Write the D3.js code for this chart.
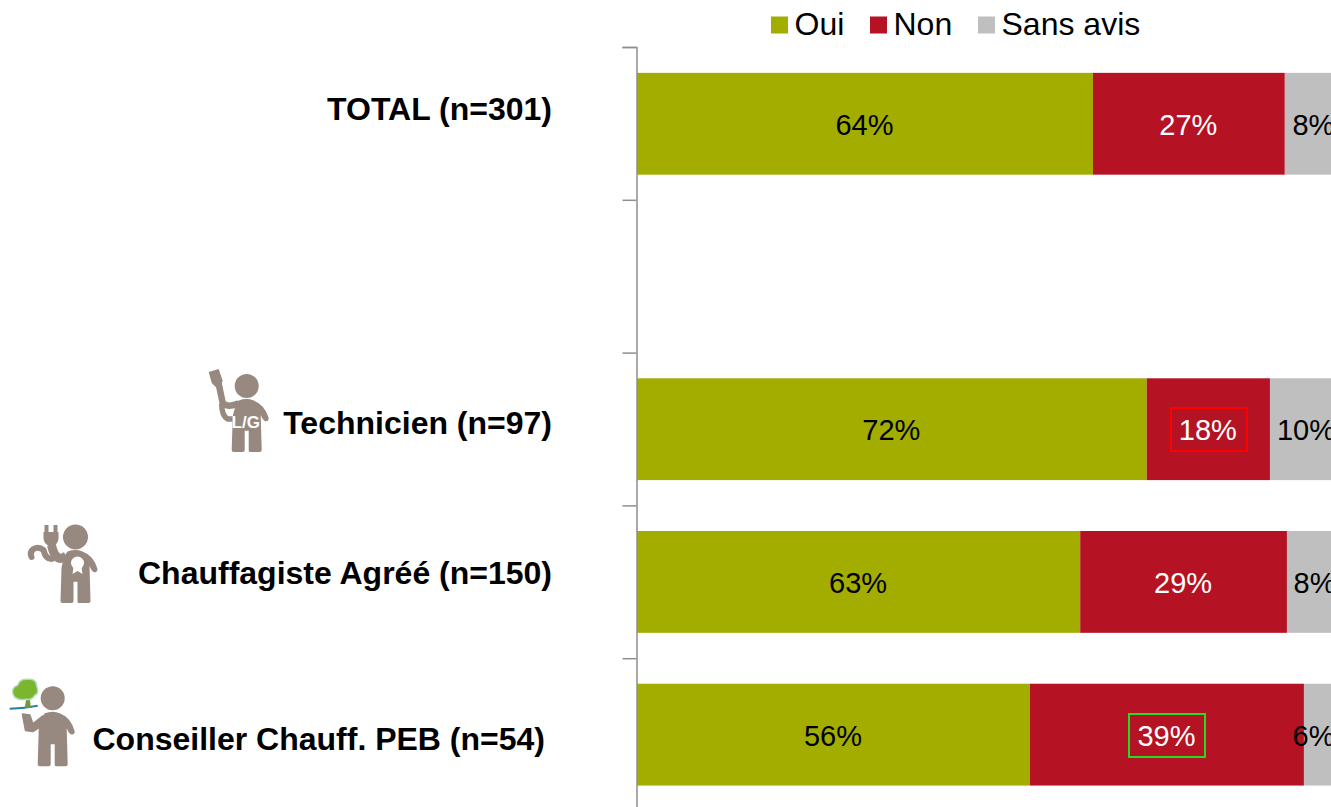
<!DOCTYPE html>
<html>
<head>
<meta charset="utf-8">
<script src="https://cdn.jsdelivr.net/npm/d3@7"></script>
<style>
html, body { margin: 0; padding: 0; background: #fff; overflow: hidden; }
svg { display: block; }
text { font-family: "Liberation Sans", Arial, sans-serif; }
</style>
</head>
<body>
<div id="chart"></div>
<script>
var categories = ["TOTAL (n=301)", "", "Technicien (n=97)", "Chauffagiste Agréé (n=150)", "Conseiller Chauff. PEB (n=54)"];
var seriesNames = ["Oui", "Non", "Sans avis"];
var seriesColors = ["#a2ad00", "#b51224", "#bfbfbf"];

// bar lengths as measured, the printed labels are the rounded ones
var oui = [64.4, null, 72.0, 62.6, 55.5];
var non = [27.1, null, 17.4, 29.2, 38.7];
var sansAvis = [8.5, null, 10.6, 8.2, 5.8];

var ouiLabels = ["64%", "", "72%", "63%", "56%"];
var nonLabels = ["27%", "", "18%", "29%", "39%"];
var sansAvisLabels = ["8%", "", "10%", "8%", "6%"];

var width = 1331, height = 807;

var svg = d3.select("#chart").append("svg")
    .attr("width", width)
    .attr("height", height);

var x = d3.scaleLinear().domain([0, 100]).range([637, 1345]);
var y = d3.scaleBand().domain(d3.range(categories.length))
    .range([47.4, 811])
    .paddingInner(1 / 3)
    .paddingOuter(1 / 6);
var yEdges = d3.scaleLinear().domain([0, categories.length]).range([47, 811]);

var axis = d3.axisLeft(yEdges)
    .tickValues(d3.range(categories.length + 1))
    .tickSize(14)
    .tickSizeOuter(14)
    .tickFormat("");

// stacked bars
var rows = [];
categories.forEach(function(c, i) {
    if (oui[i] == null) return;
    var start = 0;
    [oui[i], non[i], sansAvis[i]].forEach(function(v, s) {
        rows.push({ row: i, serie: s, start: start, stop: start + v });
        start += v;
    });
});

svg.selectAll(".bar")
    .data(rows)
    .enter().append("rect")
    .attr("class", "bar")
    .attr("x", function(d) { return x(d.start); })
    .attr("y", function(d) { return y(d.row); })
    .attr("width", function(d) { return x(d.stop) - x(d.start); })
    .attr("height", y.bandwidth())
    .attr("fill", function(d) { return seriesColors[d.serie]; });

var axisG = svg.append("g")
    .attr("transform", "translate(636.5,0)")
    .call(axis);
axisG.selectAll("path, line").attr("stroke", "#8f8f8f").attr("stroke-width", 1.5);

// value labels
var allLabels = [ouiLabels, nonLabels, sansAvisLabels];
var labelNudge = { "2,4": -11, "2,2": -1.5, "2,0": -1.5, "2,3": -1.5 };
svg.selectAll(".value")
    .data(rows)
    .enter().append("text")
    .attr("class", "value")
    .attr("x", function(d) {
        return (x(d.start) + x(d.stop)) / 2 + (labelNudge[d.serie + "," + d.row] || 0) - (d.serie == 2 ? 0 : 0.5);
    })
    .attr("y", function(d) { return y(d.row) + y.bandwidth() / 2 + 11; })
    .attr("text-anchor", "middle")
    .attr("font-size", 29)
    .attr("fill", function(d) { return d.serie == 1 ? "#fff" : "#000"; })
    .text(function(d) { return allLabels[d.serie][d.row]; });

// highlighted labels
function outline(row, color) {
    var cx = (x(oui[row]) + x(oui[row] + non[row])) / 2;
    var cy = y(row) + y.bandwidth() / 2;
    svg.append("rect")
        .attr("x", Math.round(cx - 37.5)).attr("y", Math.round(cy - 21))
        .attr("width", 76).attr("height", 43)
        .attr("fill", "none")
        .attr("stroke", color)
        .attr("stroke-width", 2);
}
outline(2, "#ff0000");
outline(4, "#22dd22");

// legend
var legendX = [771, 870, 978];
seriesNames.forEach(function(n, i) {
    svg.append("rect")
        .attr("x", legendX[i]).attr("y", 16.5)
        .attr("width", 17).attr("height", 17)
        .attr("fill", seriesColors[i]);
    svg.append("text")
        .attr("x", legendX[i] + 23.5).attr("y", 35)
        .attr("font-size", 32)
        .attr("fill", "#000")
        .text(n);
});

// category labels are free text boxes in the original
var labelRight = [552, 0, 552, 552, 545];
var labelBase = [120, 0, 434, 584, 750];
categories.forEach(function(c, i) {
    if (!c) return;
    svg.append("text")
        .attr("x", labelRight[i]).attr("y", labelBase[i])
        .attr("text-anchor", "end")
        .attr("font-size", 32)
        .attr("font-weight", "bold")
        .attr("fill", "#000")
        .text(c);
});

// little people
var personColor = "#978880";
var bodyPath = "M-8,15 Q0,12 7,15 Q18,19 22,33 Q22,37 18,36 Q16,35 14,30 L15,66 Q15,68 13,68 L3,68 Q2,68 2,66 L2,46 L-2,46 L-2,66 Q-2,68 -4,68 L-13,68 Q-15,68 -15,66 L-14,32 Q-12,20 -8,15 Z";

function person(cx, cy, r, bottom) {
    var g = svg.append("g").attr("transform", "translate(" + cx + "," + cy + ")");
    g.append("circle").attr("r", r).attr("fill", personColor);
    g.append("path").attr("d", bodyPath)
        .attr("transform", "scale(1," + bottom / 68 + ")")
        .attr("fill", personColor);
    return g;
}

// Technicien: spanner raised in the hand, L/G on the belly
var tech = person(246.7, 386, 12, 66);
tech.append("path")
    .attr("d", "M-10,18 Q-19,22 -24,17 L-28,-2")
    .attr("fill", "none").attr("stroke", personColor).attr("stroke-width", 6.5).attr("stroke-linecap", "round");
tech.append("path")
    .attr("d", "M-38,-14 L-28,-17 L-24,-5 L-27,0 L-31,1 L-35,-3 Z")
    .attr("fill", personColor);
tech.append("path")
    .attr("d", "M-25,18 Q-25,30 -19,33 L-13,33")
    .attr("fill", "none").attr("stroke", personColor).attr("stroke-width", 5.5);
tech.append("text")
    .attr("x", -1).attr("y", 42)
    .attr("text-anchor", "middle")
    .attr("font-size", 17)
    .attr("font-weight", "bold")
    .attr("fill", "#fff")
    .text("L/G");

// Chauffagiste: plug and cord, rosette on the chest
var chauff = person(75.5, 537, 12.5, 66);
chauff.append("path")
    .attr("d", "M-9,19 Q-20,27 -24,8")
    .attr("fill", "none").attr("stroke", personColor).attr("stroke-width", 9);
chauff.append("path")
    .attr("d", "M-32,-5 L-17,-5 L-17,2 Q-18,8 -24,10 Q-31,8 -32,2 Z M-31,-5 L-31,-12 L-27,-12 L-27,-5 Z M-22,-5 L-22,-12 L-18,-12 L-18,-5 Z")
    .attr("fill", personColor);
chauff.append("path")
    .attr("d", "M-24,22 Q-30,22 -32,13 Q-37,9 -42,12 Q-46,15 -44,20")
    .attr("fill", "none").attr("stroke", personColor).attr("stroke-width", 6).attr("stroke-linecap", "round");
chauff.append("circle").attr("cx", 2).attr("cy", 26).attr("r", 6.5).attr("fill", "#fff");
chauff.append("path").attr("d", "M-2,30 L-3,37 L2,34 L7,37 L6,30 Z").attr("fill", "#fff");

// Conseiller: holding a tree on the hand
var cons = person(52.7, 698.3, 12, 68);
cons.append("path")
    .attr("d", "M-10,18 L-20,26 L-23,17 L-30,16 L-27,32 L-20,33 L-12,28 Z")
    .attr("fill", personColor).attr("stroke", personColor).attr("stroke-width", 2).attr("stroke-linejoin", "round");
cons.append("path")
    .attr("d", "M-43,10.5 Q-28,10 -15,7.5")
    .attr("fill", "none").attr("stroke", "#2a7fa8").attr("stroke-width", 2);
cons.append("path")
    .attr("d", "M-28,9.5 L-26,-2 L-23,-2 L-22,9.5 Z")
    .attr("fill", "#6f9a3a");
cons.append("path")
    .attr("d", "M-26,1 Q-38,3 -40,-5 Q-41,-11 -35,-13 Q-33,-20 -25,-19 Q-16,-20 -16,-12 Q-13,-5 -18,-3 Q-21,2 -26,1 Z")
    .attr("fill", "#7cb62e")
    .attr("stroke", "#b5dcc0")
    .attr("stroke-width", 1.5);
</script>
</body>
</html>
